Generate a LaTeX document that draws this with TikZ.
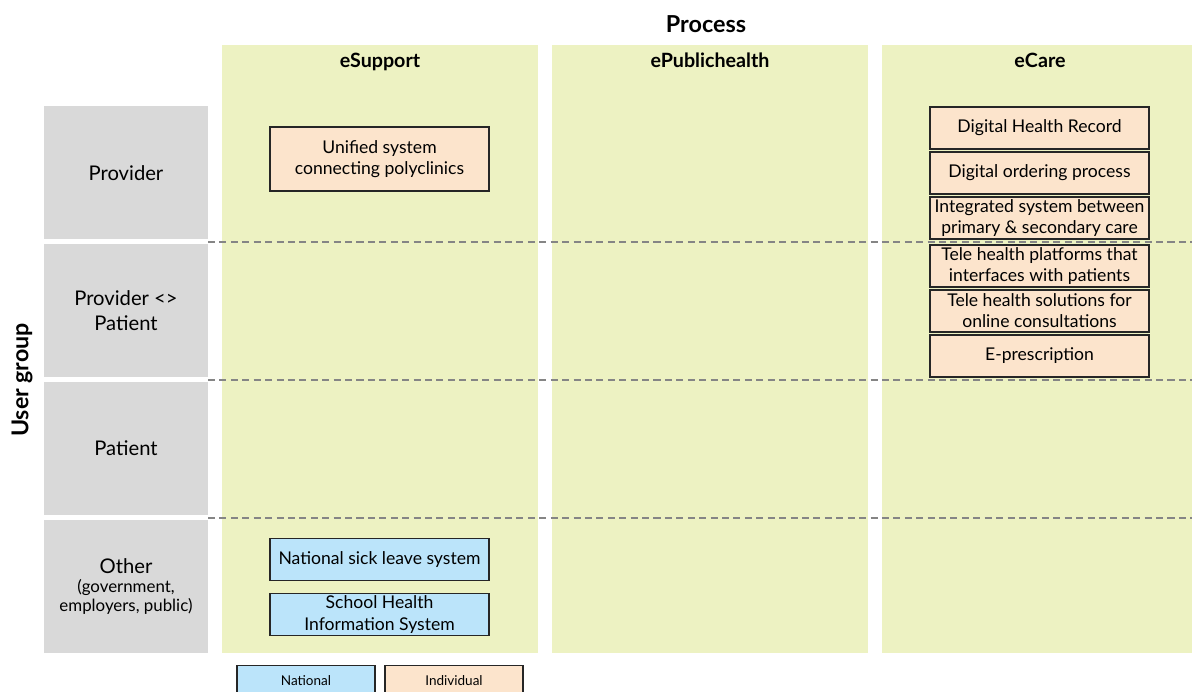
\documentclass[tikz,border=0pt]{standalone}
\usepackage{fontspec}
\setmainfont{Lato}
\usetikzlibrary{positioning}

\definecolor{laneyellow}{HTML}{EDF2C2}
\definecolor{groupgray}{HTML}{D9D9D9}
\definecolor{individual}{HTML}{FCE4CC}
\definecolor{national}{HTML}{BBE4FA}
\definecolor{sepgray}{HTML}{858585}

\begin{document}
\frenchspacing
\begin{tikzpicture}[
    lane/.style={rectangle, fill=laneyellow, minimum width=6.32cm, minimum height=12.16cm, inner sep=0pt},
    lanetitle/.style={anchor=base, font=\fontsize{11.2}{13}\selectfont\bfseries},
    usergroup/.style={rectangle, fill=groupgray, minimum width=3.28cm, minimum height=2.66cm, align=center, inner sep=0pt, font=\fontsize{11.5}{14}\selectfont},
    system/.style={rectangle, draw=black!85, line width=0.6pt, fill=individual, align=center, minimum width=4.38cm, minimum height=0.84cm, inner sep=0pt, font=\fontsize{10}{12}\selectfont},
    legend/.style={rectangle, draw=black!85, line width=0.6pt, align=center, minimum width=2.76cm, minimum height=0.62cm, inner sep=0pt, font=\fontsize{7.7}{10}\selectfont},
    separator/.style={sepgray, line width=0.8pt, dash pattern=on 4pt off 2.5pt}
]
\useasboundingbox (0,0) rectangle (23.84,13.82);
\clip (0,0) rectangle (23.84,13.82);

% Process lanes
\node[lane] (esupport) at (7.60,6.84) {};
\node[lane] (epublic) at (14.20,6.84) {};
\node[lane] (ecare) at (20.80,6.84) {};
\node[lanetitle] (esupport_t) at (7.60,12.46) {eSupport};
\node[lanetitle] (epublic_t) at (14.20,12.46) {ePublichealth};
\node[lanetitle] (ecare_t) at (20.80,12.46) {eCare};
\node[font=\fontsize{13.3}{16}\selectfont\bfseries] (process) at (14.12,13.34) {Process};

% User groups
\node[usergroup] (provider) at (2.52,10.36) {Provider};
\node[usergroup] (ppatient) at (2.52,7.61) {Provider <>\\Patient};
\node[usergroup] (patient) at (2.52,4.85) {Patient};
\node[usergroup, text width=3.2cm, align=flush center] (other) at (2.52,2.09) {Other\par{\fontsize{9.6}{11}\selectfont (government,\\employers, public)\par}};
\node[rotate=90, font=\fontsize{13.2}{16}\selectfont\bfseries] (usergroup) at (0.44,6.22) {User group};

% Separators
\draw[separator] (4.16,8.98) -- (23.84,8.98);
\draw[separator] (4.16,6.22) -- (23.84,6.22);
\draw[separator] (4.16,3.46) -- (23.84,3.46);

% eSupport systems
\node[system, minimum height=1.28cm] (polyclinics) at (7.59,10.64) {Unified system\\connecting polyclinics};
\node[system, fill=national] (sickleave) at (7.59,2.63) {National sick leave system};
\node[system, fill=national] (schoolhealth) at (7.59,1.53) {School Health\\Information System};

% eCare systems
\node[system] (dhr) at (20.79,11.26) {Digital Health Record};
\node[system] (ordering) at (20.79,10.36) {Digital ordering process};
\node[system] (integrated) at (20.79,9.46) {Integrated system between\\primary \& secondary care};
\node[system] (teleplatform) at (20.79,8.50) {Tele health platforms that\\interfaces with patients};
\node[system] (telesolution) at (20.79,7.60) {Tele health solutions for\\online consultations};
\node[system] (eprescription) at (20.79,6.70) {E-prescription};

% Legend
\node[legend, fill=national, anchor=north] (leg_national) at (6.12,0.52) {National};
\node[legend, fill=individual, anchor=north] (leg_individual) at (9.08,0.52) {Individual};

\end{tikzpicture}
\end{document}
